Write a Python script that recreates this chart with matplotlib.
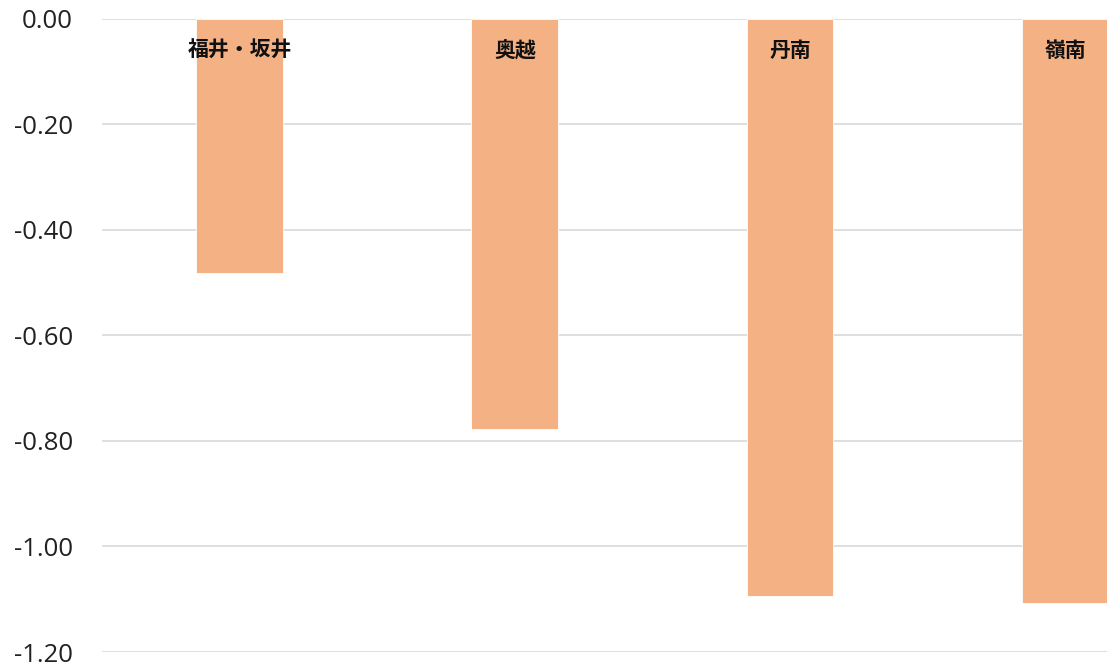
import matplotlib
matplotlib.use("Agg")
import matplotlib.pyplot as plt

categories = ["福井・坂井", "奥越", "丹南", "嶺南"]
values = [-0.483, -0.777, -1.093, -1.107]
yticks = [0.0, -0.2, -0.4, -0.6, -0.8, -1.0, -1.2]
ytick_labels = ["0.00", "-0.20", "-0.40", "-0.60", "-0.80", "-1.00", "-1.20"]

plt.rcParams['font.family'] = ['Noto Sans CJK JP', 'DejaVu Sans']

W, H = 1107, 669
fig = plt.figure(figsize=(W / 100, H / 100), dpi=100)
left = 102 / W
bottom = 17 / H
width = (4 * 275.2) / W
height = (650.5 - 17) / H
ax = fig.add_axes([left, bottom, width, height])

x = list(range(len(categories)))
ax.bar(x, values, width=0.316, color="#F4B183", edgecolor="white", linewidth=0.6, zorder=2)
for xi, name in zip(x, categories):
    ax.text(xi, -0.06, name, ha="center", va="center", fontsize=15,
            fontweight="bold", color="#111111", zorder=3)

ax.set_xlim(-0.5, 3.5)
ax.set_ylim(-1.2, 0.0)
ax.set_yticks(yticks)
ax.set_yticklabels(ytick_labels, fontsize=18.5, color="#222222",
                   family=['Open Sans', 'DejaVu Sans'])
ax.set_xticks([])
ax.tick_params(axis='y', length=0, pad=21)
ax.yaxis.grid(True, color="#d9d9d9", linewidth=1.2, zorder=0)
ax.set_axisbelow(True)
for s in ax.spines.values():
    s.set_visible(False)

fig.savefig("out.png", dpi=100)
